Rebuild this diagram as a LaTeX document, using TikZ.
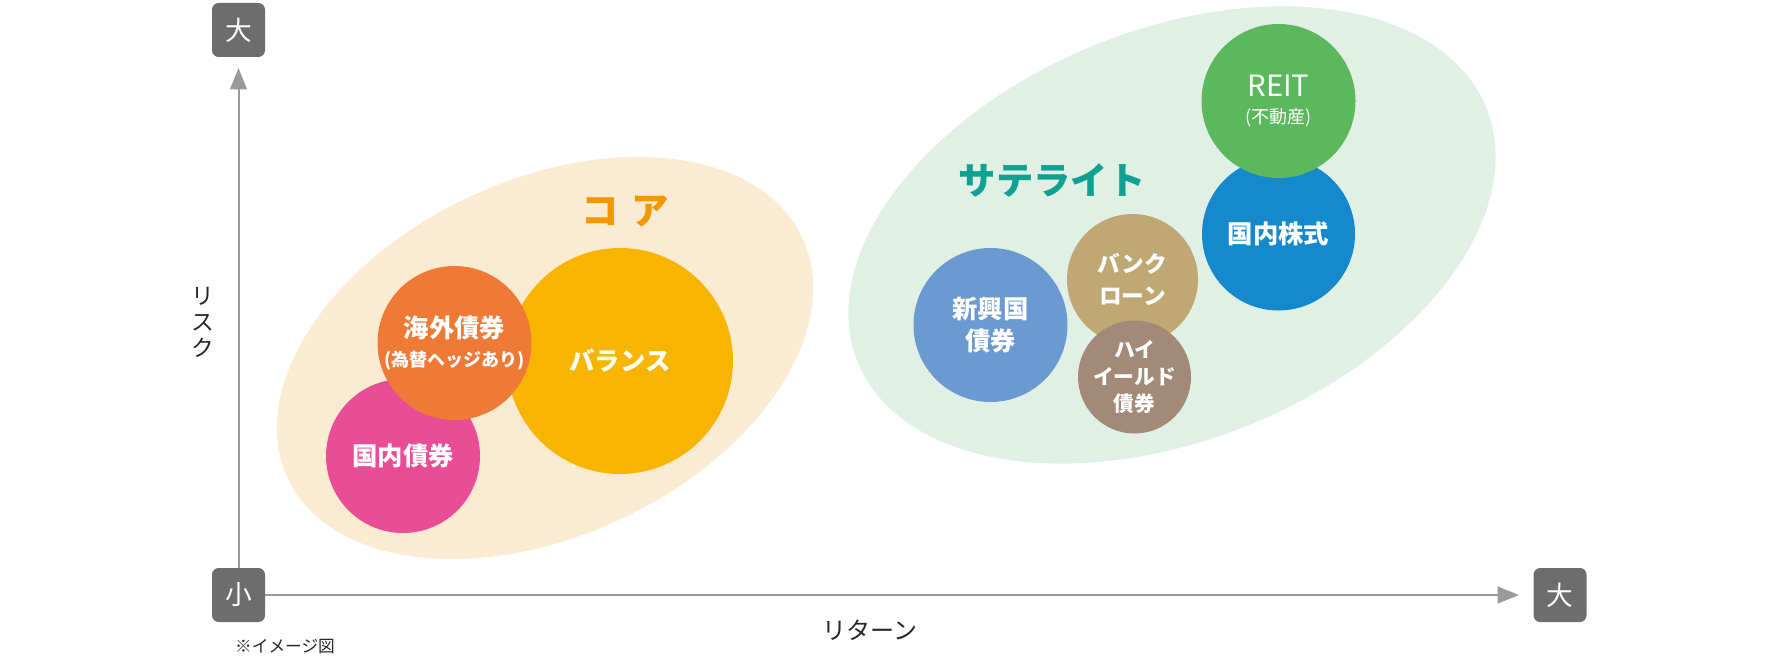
\documentclass[tikz,border=0pt]{standalone}
\usepackage{fontspec}
\usepackage{tikz}
\usetikzlibrary{arrows.meta,positioning}
\newfontfamily\jp{Noto Sans CJK JP}
\newcommand{\fsz}[2]{\fontsize{#1}{#2}\selectfont}
\definecolor{corebg}{HTML}{FCEBD3}
\definecolor{satbg}{HTML}{E1F0E5}
\definecolor{coretxt}{HTML}{F39800}
\definecolor{sattxt}{HTML}{0FA192}
\definecolor{cpink}{HTML}{E94D95}
\definecolor{corange}{HTML}{EE7A35}
\definecolor{cyellow}{HTML}{F8B500}
\definecolor{cemerg}{HTML}{6A9ACF}
\definecolor{cloan}{HTML}{C0A875}
\definecolor{chy}{HTML}{A38A78}
\definecolor{creit}{HTML}{5CB85C}
\definecolor{cstock}{HTML}{1689CC}
\definecolor{boxgray}{HTML}{6D6D6D}
\definecolor{axgray}{HTML}{9A9A9A}
\tikzset{
  bub/.style  = {circle, inner sep=0pt, minimum size=#1*1.5pt, text=white,
                 align=center, font=\jp\bfseries\fsz{19pt}{24pt}},
  box/.style  = {fill=boxgray, rounded corners=5pt, minimum width=39.75pt,
                 minimum height=40.5pt, inner sep=0pt, text=white,
                 font=\jp\fsz{20pt}{20pt}},
  ax/.style   = {draw=axgray, line width=1.5pt,
                 -{Triangle[length=16pt, width=12.5pt]}},
  ttl/.style  = {font=\jp\bfseries\fsz{28pt}{28pt}},
  lbl/.style  = {font=\jp\fsz{17pt}{19.5pt}, text=black!85, align=center},
  note/.style = {font=\jp\fsz{12.5pt}{14pt}, text=black!85}
}
\begin{document}
\begin{tikzpicture}[x=0.75pt,y=-0.75pt]
  \useasboundingbox (0,0) rectangle (1780,656);
  % groups
  \fill[corebg, rotate around={25:(545,358)}] (545,358) ellipse [x radius=284, y radius=178];
  \fill[satbg, rotate around={22:(1172,235)}] (1172,235) ellipse [x radius=339, y radius=205];
  \node[ttl, text=coretxt] (core) at (625,211) {コ\kern10ptア};
  \node[ttl, text=sattxt] (sat) at (1052,180) {サテライト};
  % core assets
  \node[bub=113, fill=cyellow] (bal) at (620,361) {バランス};
  \node[bub=77, fill=cpink] (dbond) at (403,456) {国内債券};
  \node[bub=77, fill=corange] (fbond) at (454.5,343)
    {海外債券\\[-2pt]{\fsz{13.5pt}{16pt}(為替ヘッジあり)}};
  % satellite assets
  \node[bub=77, fill=cemerg] (emb) at (990.5,325) {新興国\\債券};
  \node[bub=65.5, fill=cloan, font=\jp\bfseries\fsz{17pt}{24pt}] (loan) at (1132.5,279.5) {バンク\\ローン};
  \node[bub=56.5, fill=chy, font=\jp\bfseries\fsz{15.5pt}{20pt}] (hy) at (1134.5,377) {ハイ\\イールド\\債券};
  \node[bub=76.5, fill=cstock] (dstock) at (1278.5,234) {国内株式};
  \node[bub=77, fill=creit, font=\jp\fsz{22pt}{24pt}] (reit) at (1278.5,101)
    {REIT\\[-4pt]{\fsz{13.5pt}{16pt}(不動産)}};
  % axes
  \node[box] (ymax) at (238.5,30) {大};
  \node[box] (orig) at (238.5,595) {小};
  \node[box] (xmax) at (1560,595) {大};
  \coordinate (ytip) at (238.5,68);
  \coordinate (xtip) at (1519,595);
  \draw[ax] (orig.north) -- (ytip);
  \draw[ax] (orig.east) -- (xtip);
  \node[lbl] (risk) at (203,322) {リ\\ス\\ク};
  \node[lbl, font=\jp\fsz{18pt}{20pt}] (ret) at (870,630) {リターン};
  \node[note] (img) at (285,647) {※イメージ図};
\end{tikzpicture}
\end{document}
